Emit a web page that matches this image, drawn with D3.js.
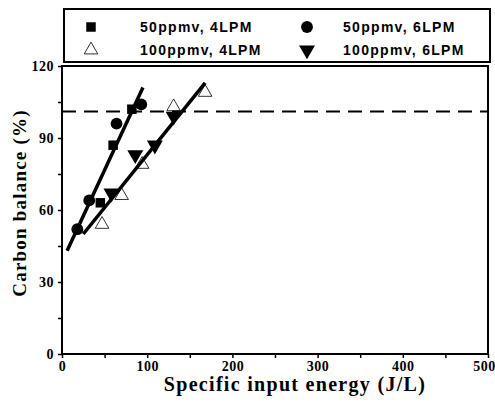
<!DOCTYPE html>
<html>
<head>
<meta charset="utf-8">
<script src="https://cdn.jsdelivr.net/npm/d3@7"></script>
<style>
  body { margin: 0; background: #fff; }
</style>
</head>
<body>
<svg id="chart" width="495" height="404"></svg>
<script>
// data
const sq50_4 = [[45, 63], [60, 87], [82, 102]];
const circ50_6 = [[18, 52], [32, 64], [64, 96], [93, 104]];
const tri100_4 = [[47, 54], [70, 66], [94, 79], [131, 103], [168, 109]];
const tri100_6 = [[58, 67], [86, 83], [109, 87], [131, 99]];
const fit50 = [[6, 43], [95, 111]];
const fit100 = [[25, 50], [168, 113]];
const refLevel = 101;
const xTicks = [0, 100, 200, 300, 400, 500];
const yTicks = [0, 30, 60, 90, 120];
const legendNames = ["50ppmv, 4LPM", "50ppmv, 6LPM", "100ppmv, 4LPM", "100ppmv, 6LPM"];

const svg = d3.select("svg#chart");
const margin = { top: 66, right: 7, bottom: 50, left: 62 };
const width = +svg.attr("width") - margin.left - margin.right;
const height = +svg.attr("height") - margin.top - margin.bottom;
const g = svg.append("g").attr("transform", `translate(${margin.left},${margin.top})`);

const x = d3.scaleLinear().domain([0, 500]).range([0, width]);
const y = d3.scaleLinear().domain([0, 120]).range([height, 0]);

// axes
const xAxis = g.append("g").attr("transform", `translate(0,${height})`)
  .call(d3.axisBottom(x).tickValues(d3.range(0, 501, 50)).tickSize(4)
    .tickFormat(d => xTicks.includes(d) ? d : ""));
const yAxis = g.append("g")
  .call(d3.axisLeft(y).tickValues(d3.range(0, 121, 15)).tickSize(4)
    .tickFormat(d => yTicks.includes(d) ? d : ""));
[xAxis, yAxis].forEach(a => {
  a.select(".domain").remove();
  a.selectAll("line").attr("stroke", "#000").attr("stroke-width", 1.5);
  a.selectAll("text")
    .style("font-family", "'Liberation Serif', serif")
    .style("font-weight", "bold")
    .style("font-size", "14px")
    .style("letter-spacing", "0.5px")
    .attr("fill", "#000");
});
xAxis.selectAll("text").attr("dy", "0.7em");
xAxis.selectAll("text").filter(d => d === 500).attr("dx", "-4px");
yAxis.selectAll("text").attr("dx", "-1px");

// frame
g.append("rect").attr("width", width).attr("height", height)
  .attr("fill", "none").attr("stroke", "#000").attr("stroke-width", 2);

// dashed reference line
g.append("line").attr("x1", 0).attr("x2", width)
  .attr("y1", y(refLevel)).attr("y2", y(refLevel))
  .attr("stroke", "#000").attr("stroke-width", 2).attr("stroke-dasharray", "14,8");

// fit lines
const line = d3.line().x(d => x(d[0])).y(d => y(d[1]));
[fit50, fit100].forEach(f => {
  g.append("path").datum(f).attr("d", line)
    .attr("fill", "none").attr("stroke", "#000").attr("stroke-width", 3.5);
});

// symbols
const sym = {
  square: d3.symbol().type(d3.symbolSquare).size(90),
  circle: d3.symbol().type(d3.symbolCircle).size(110),
  up: d3.symbol().type(d3.symbolTriangle).size(80),
  down: d3.symbol().type(d3.symbolTriangle).size(110)
};
function drawPoints(data, shape, fill, rot) {
  g.selectAll(null).data(data).join("path")
    .attr("d", sym[shape])
    .attr("transform", d => `translate(${x(d[0])},${y(d[1])}) rotate(${rot})`)
    .attr("fill", fill).attr("stroke", "#000").attr("stroke-width", fill === "none" ? 0.8 : 0);
}
drawPoints(sq50_4, "square", "#000", 0);
drawPoints(circ50_6, "circle", "#000", 0);
drawPoints(tri100_4, "up", "none", 0);
drawPoints(tri100_6, "down", "#000", 180);

// axis labels
svg.append("text")
  .attr("x", 295).attr("y", 391)
  .attr("text-anchor", "middle")
  .style("font-family", "'Liberation Serif', serif").style("font-weight", "bold")
  .style("font-size", "20px").style("letter-spacing", "1.3px")
  .text("Specific input energy (J/L)");
svg.append("text")
  .attr("transform", "translate(26,203) rotate(-90)")
  .attr("text-anchor", "middle")
  .style("font-family", "'Liberation Serif', serif").style("font-weight", "bold")
  .style("font-size", "19px").style("letter-spacing", "1.2px")
  .text("Carbon balance (%)");

// legend
const legend = svg.append("g");
legend.append("rect").attr("x", 64).attr("y", 9).attr("width", 426).attr("height", 53)
  .attr("fill", "#fff").attr("stroke", "#000").attr("stroke-width", 2);
const legShapes = [["square", "#000", 0], ["circle", "#000", 0], ["up", "none", 0], ["down", "#000", 180]];
legendNames.forEach((name, i) => {
  const col = i % 2, row = Math.floor(i / 2);
  const sx = col === 0 ? 91 : 307;
  const ty = row === 0 ? 27 : 50;
  const s = legShapes[i];
  legend.append("path").attr("d", sym[s[0]])
    .attr("transform", `translate(${sx},${ty}) rotate(${s[2]})`)
    .attr("fill", s[1]).attr("stroke", "#000").attr("stroke-width", s[1] === "none" ? 0.8 : 0);
  legend.append("text")
    .attr("x", col === 0 ? 140 : 343).attr("y", ty + 5)
    .style("font-family", "'Liberation Sans', Arial, sans-serif").style("font-weight", "bold")
    .style("font-size", "14px").style("letter-spacing", "1.3px")
    .text(name);
});
</script>
</body>
</html>
